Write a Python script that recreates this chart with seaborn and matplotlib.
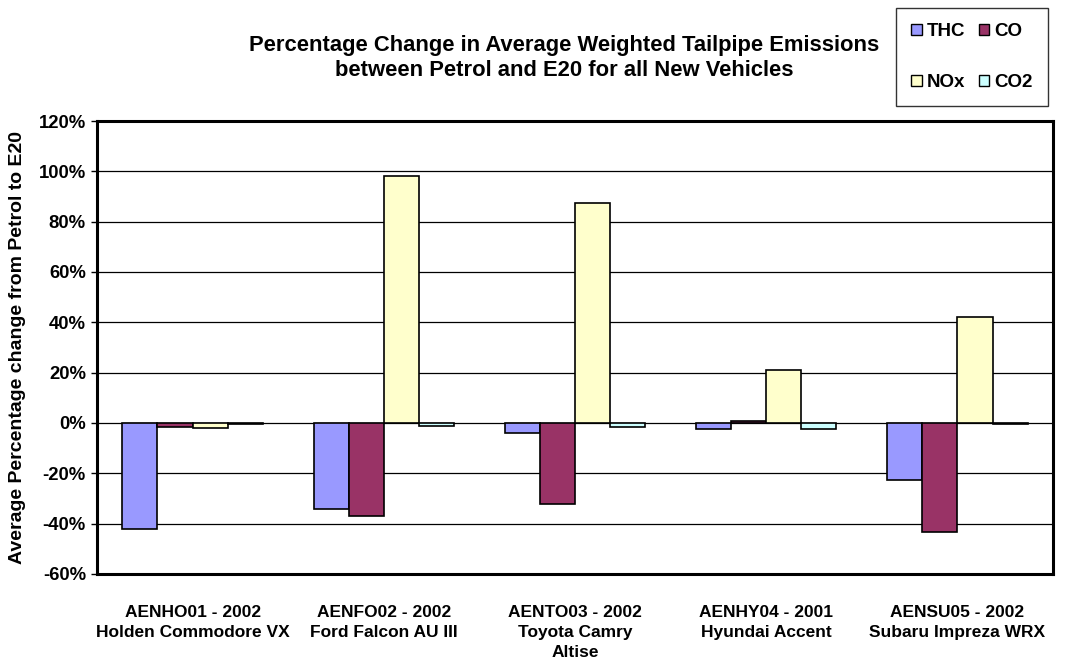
import matplotlib
matplotlib.use("Agg")
import matplotlib.pyplot as plt
import seaborn as sns
import pandas as pd
from matplotlib.patches import Patch

vehicles = ["AENHO01 - 2002\nHolden Commodore VX",
            "AENFO02 - 2002\nFord Falcon AU III",
            "AENTO03 - 2002\nToyota Camry\nAltise",
            "AENHY04 - 2001\nHyundai Accent",
            "AENSU05 - 2002\nSubaru Impreza WRX"]
pollutants = ["THC", "CO", "NOx", "CO2"]
thc = [-42.0, -34.2, -4.0, -2.5, -22.5]
co = [-1.5, -37.0, -32.0, 0.8, -43.3]
nox = [-2.0, 98.0, 87.3, 21.0, 42.0]
co2 = [-0.3, -1.2, -1.5, -2.5, -0.3]
colors = ["#9999FF", "#993366", "#FFFFCC", "#CCFFFF"]

rows = []
for p, vals in zip(pollutants, [thc, co, nox, co2]):
    for v, val in zip(vehicles, vals):
        rows.append({"vehicle": v, "pollutant": p, "value": val})
df = pd.DataFrame(rows)

sns.set_theme(style="white")
plt.rcParams['font.family'] = ['Liberation Sans', 'DejaVu Sans']
plt.rcParams['text.color'] = 'black'
plt.rcParams['xtick.color'] = 'black'
plt.rcParams['ytick.color'] = 'black'
plt.rcParams['axes.labelcolor'] = 'black'

fig = plt.figure(figsize=(10.65, 6.68), dpi=100)
ax = fig.add_axes([97/1065, 1-574/668, (1053-97)/1065, (574-121)/668])

sns.barplot(data=df, x="vehicle", y="value", hue="pollutant", order=vehicles,
            hue_order=pollutants, palette=colors, saturation=1, width=0.735, gap=0,
            edgecolor="black", linewidth=1.2, ax=ax, legend=False, errorbar=None)

ax.set_ylim(-60, 120)
ax.set_yticks(range(-60, 121, 20))
ax.set_yticklabels([f"{t}%" for t in range(-60, 121, 20)], fontweight="bold", fontsize=13.3)
ax.set_xlim(-0.5, 4.5)
ax.set_xticks(range(5))
ax.set_xticklabels(vehicles, fontweight="bold", fontsize=12.5, linespacing=1.45)
ax.tick_params(axis="x", length=0, pad=22)
ax.tick_params(axis="y", length=4, width=1, direction="out", left=True, pad=4)
ax.set_axisbelow(True)
ax.yaxis.grid(True, color="black", linewidth=0.9)
ax.set_xlabel("")
ax.set_ylabel("Average Percentage change from Petrol to E20", fontweight="bold", fontsize=14, labelpad=9)
for s in ax.spines.values():
    s.set_visible(True)
    s.set_color("black")
    s.set_linewidth(2.2)

fig.text(0.53, 0.913, "Percentage Change in Average Weighted Tailpipe Emissions\nbetween Petrol and E20 for all New Vehicles",
         ha="center", va="center", fontweight="bold", fontsize=15.8, linespacing=1.22)

order = [0, 2, 1, 3]
handles = [Patch(facecolor=colors[i], edgecolor="black", linewidth=1) for i in order]
labels = [pollutants[i] for i in order]
leg = fig.legend(handles, labels, ncol=2, loc="upper left",
                 bbox_to_anchor=(896/1065, 1-8/668), borderaxespad=0, frameon=True, fancybox=False,
                 edgecolor="black", handlelength=0.58, handleheight=0.58, handletextpad=0.27,
                 columnspacing=0.7, labelspacing=1.82, borderpad=0.8,
                 prop={"weight": "bold", "size": 13.5})
leg.get_frame().set_linewidth(1.0)

fig.savefig("out.png", dpi=100)
